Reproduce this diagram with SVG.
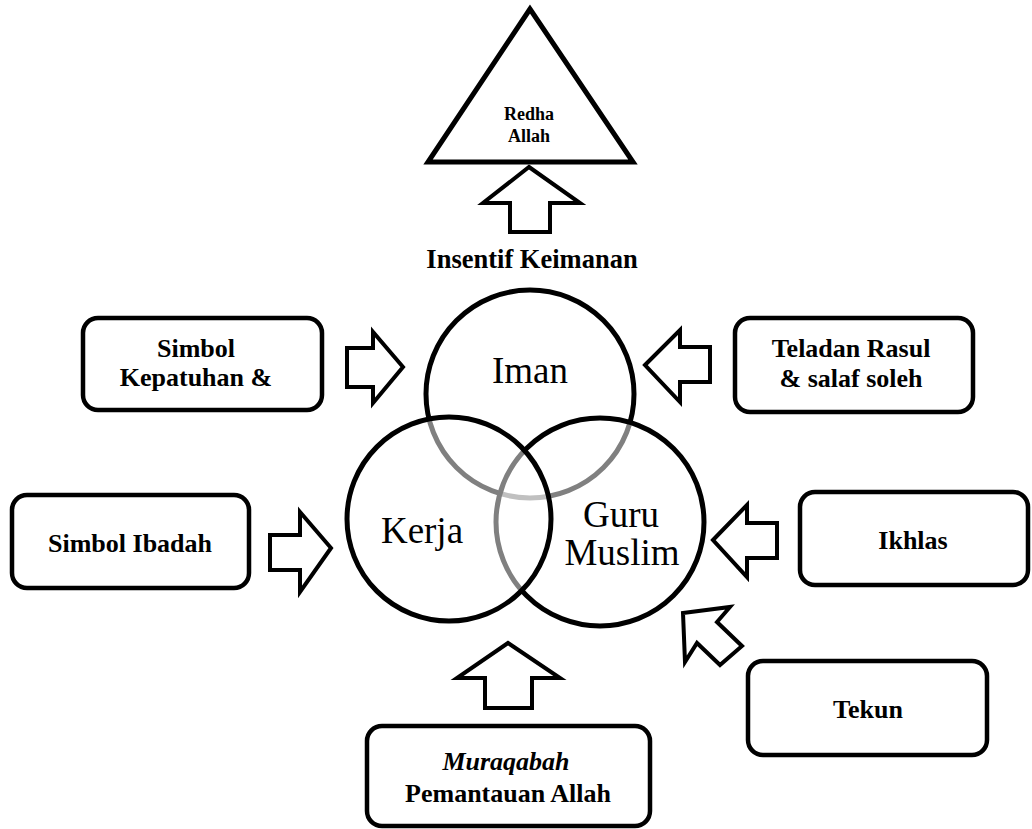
<svg xmlns="http://www.w3.org/2000/svg" width="1032" height="829" viewBox="0 0 1032 829">
<style>
.box{fill:#fff;stroke:#000;stroke-width:4.5}
.arr{fill:#fff;stroke:#000;stroke-width:4;stroke-linejoin:miter}
.circ{fill:#fff;fill-opacity:0.5;stroke:#000;stroke-width:5}
.bt{font-family:"Liberation Serif","Times New Roman",serif;font-weight:bold;font-size:26px;text-anchor:middle;fill:#000}
.ct{font-family:"Liberation Serif","Times New Roman",serif;font-size:37px;text-anchor:middle;fill:#000}
</style>
<rect width="1032" height="829" fill="#fff"/>
<g id="redha">
<polygon points="530,9 428,162 633,162" fill="#fff" stroke="#000" stroke-width="5" stroke-linejoin="miter"/>
<text class="bt" x="529" y="120" style="font-size:18px">Redha</text>
<text class="bt" x="529" y="142" style="font-size:18px">Allah</text>
</g>
<g id="insentif">
<text class="bt" x="532" y="268" style="font-size:26.5px">Insentif Keimanan</text>
</g>
<g id="circles">
<circle id="iman" class="circ" cx="530" cy="394" r="104"/>
<circle id="guru" class="circ" cx="600" cy="522" r="104"/>
<circle id="kerja" class="circ" cx="449" cy="519" r="102"/>
<text class="ct" x="530" y="383">Iman</text>
<text class="ct" x="422" y="543">Kerja</text>
<text class="ct" x="621" y="527">Guru</text>
<text class="ct" x="622" y="565">Muslim</text>
</g>
<g id="connectors">
<polygon class="arr" points="529,167 580,203 550,203 550,232 510,232 510,203 483,203"/>
<polygon class="arr" points="403,367 373,332 373,348 347,348 347,387 373,387 373,403"/>
<polygon class="arr" points="645,365 680,330 680,347 710,347 710,382 680,382 680,402"/>
<polygon class="arr" points="331,548 300,512 300,535 270,535 270,570 300,570 300,592"/>
<polygon class="arr" points="713,540 747,505 747,523 777,523 777,558 747,558 747,577"/>
<polygon class="arr" points="683,613 730,607 717,622 742,646 720,665 697,643 685,662"/>
<polygon class="arr" points="508,643 560,678 532,678 532,708 485,708 485,678 457,678"/>
</g>
<g id="box-kepatuhan">
<rect class="box" x="83" y="318" width="239" height="92" rx="15"/>
<text class="bt" x="196" y="357">Simbol</text>
<text class="bt" x="196" y="386">Kepatuhan &amp;</text>
</g>
<g id="box-teladan">
<rect class="box" x="735" y="318" width="238" height="94" rx="15"/>
<text class="bt" x="851" y="357">Teladan Rasul</text>
<text class="bt" x="851" y="387">&amp; salaf soleh</text>
</g>
<g id="box-ibadah">
<rect class="box" x="12" y="495" width="237" height="93" rx="15"/>
<text class="bt" x="130" y="552">Simbol Ibadah</text>
</g>
<g id="box-ikhlas">
<rect class="box" x="800" y="492" width="228" height="93" rx="15"/>
<text class="bt" x="913" y="549">Ikhlas</text>
</g>
<g id="box-tekun">
<rect class="box" x="748" y="661" width="239" height="94" rx="15"/>
<text class="bt" x="868" y="718">Tekun</text>
</g>
<g id="box-muraqabah">
<rect class="box" x="367" y="726" width="283" height="100" rx="15"/>
<text class="bt" x="506" y="770" style="font-style:italic">Muraqabah</text>
<text class="bt" x="508" y="802">Pemantauan Allah</text>
</g>
</svg>
